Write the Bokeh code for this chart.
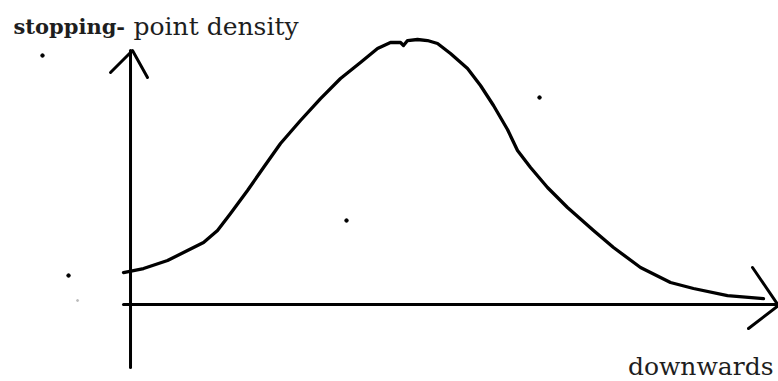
from bokeh.plotting import figure
from bokeh.models import Range1d, Label
from bokeh.embed import file_html
from bokeh.resources import INLINE

# sketch curve: stopping-point density vs. downwards position (arbitrary units)
curve_x = [-0.117, 0.217, 0.617, 0.95, 1.217, 1.45, 1.667, 1.95, 2.217, 2.5, 2.833, 3.167,
           3.5, 3.833, 4.117, 4.333, 4.5, 4.55, 4.617, 4.783, 4.95, 5.117, 5.333, 5.617,
           5.833, 6.05, 6.283, 6.45, 6.667, 6.95, 7.283, 7.717, 8.05, 8.5, 9.0, 9.383,
           9.95, 10.55]
curve_y = [0.533, 0.6, 0.733, 0.9, 1.033, 1.233, 1.517, 1.9, 2.283, 2.683, 3.067, 3.433,
           3.767, 4.033, 4.267, 4.367, 4.367, 4.317, 4.4, 4.417, 4.4, 4.35, 4.183, 3.933,
           3.65, 3.317, 2.917, 2.567, 2.283, 1.95, 1.617, 1.233, 0.95, 0.617, 0.367, 0.267,
           0.15, 0.1]

# hand-drawn axes
haxis_x = [-0.117, 10.8]
haxis_y = [0.0, 0.0]
vaxis_x = [0.0, 0.0]
vaxis_y = [-1.05, 4.233]

# arrow heads (arm end, tip, arm end)
vhead_x = [-0.333, 0.033, 0.283]
vhead_y = [3.867, 4.233, 3.783]
hhead_x = [10.367, 10.8, 10.3]
hhead_y = [0.617, -0.017, -0.4]

# stray specks in the sketch
speck_x = [-1.467, -1.033, 3.6, 6.817]
speck_y = [4.15, 0.483, 1.4, 3.45]

p = figure(width=778, height=381, output_backend="svg", toolbar_location=None,
           x_range=Range1d(-2.167, 10.8), y_range=Range1d(-1.283, 5.067),
           min_border=0, outline_line_color=None)
p.xaxis.visible = False
p.yaxis.visible = False
p.grid.visible = False
p.background_fill_color = "white"

p.line(haxis_x, haxis_y, line_width=3, color="black", line_cap="round")
p.line(vaxis_x, vaxis_y, line_width=3, color="black", line_cap="round")
p.line(vhead_x, vhead_y, line_width=3, color="black", line_cap="round", line_join="round")
p.line(hhead_x, hhead_y, line_width=3, color="black", line_cap="round", line_join="round")
p.line(curve_x, curve_y, line_width=3.3, color="black", line_cap="round", line_join="round")
p.scatter(speck_x, speck_y, size=3.5, color="black")
p.scatter([-0.883], [0.067], size=2, color="#bbbbbb")

p.add_layout(Label(x=-1.95, y=4.633, text="stopping-", text_font="DejaVu Serif",
                   text_font_style="bold", text_font_size="21px", text_color="#1e1e1e",
                   text_baseline="alphabetic"))
p.add_layout(Label(x=0.05, y=4.633, text="point density", text_font="DejaVu Serif",
                   text_font_size="25px", text_color="#1e1e1e", text_baseline="alphabetic"))
p.add_layout(Label(x=10.717, y=-1.033, text="downwards", text_font="DejaVu Serif",
                   text_font_size="25px", text_color="#1e1e1e", text_baseline="alphabetic",
                   text_align="right"))

open("out.html", "w").write(file_html(p, INLINE))
